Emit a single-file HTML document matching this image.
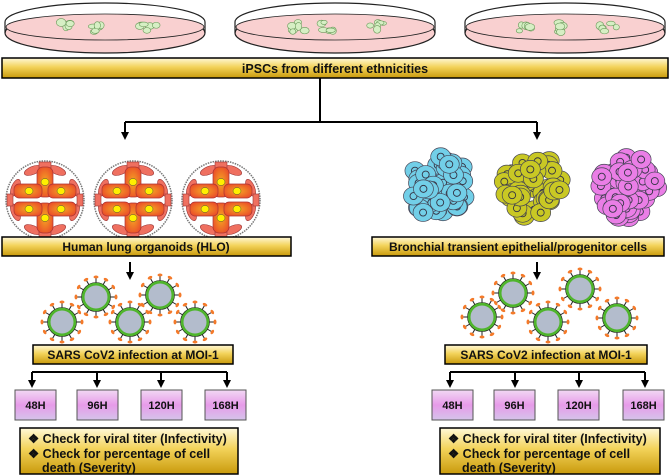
<!DOCTYPE html>
<html><head><meta charset="utf-8"><style>
html,body{margin:0;padding:0;background:#fff;width:670px;height:476px;overflow:hidden}
svg{display:block}
text{font-family:"Liberation Sans",Arial,sans-serif;font-weight:bold;fill:#111}
</style></head><body>
<svg id="s" width="670" height="476" viewBox="0 0 670 476" xmlns="http://www.w3.org/2000/svg">
<defs>
<linearGradient id="gold" x1="0" y1="0" x2="0" y2="1">
<stop offset="0" stop-color="#fff8d8"/><stop offset="0.45" stop-color="#f3d35a"/><stop offset="1" stop-color="#c99a0c"/></linearGradient>
<linearGradient id="pink" x1="0" y1="0" x2="0" y2="1">
<stop offset="0" stop-color="#f2d8f4"/><stop offset="0.5" stop-color="#e79be9"/><stop offset="1" stop-color="#d5c4ea"/></linearGradient>
<radialGradient id="org" cx="0.5" cy="0.5" r="0.6"><stop offset="0" stop-color="#f5a623"/><stop offset="1" stop-color="#ea4a2a"/></radialGradient>
<marker id="ar" markerWidth="8" markerHeight="8" refX="4" refY="4" orient="auto" markerUnits="userSpaceOnUse"><path d="M0,0 L8,4 L0,8 z" fill="#000"/></marker>
</defs>
<g id="dishes"></g>
<rect x="2" y="58" width="666" height="20" fill="url(#gold)" stroke="#000" stroke-width="1.5"/>
<text x="335" y="73" text-anchor="middle" font-size="12.5">iPSCs from different ethnicities</text>
<g stroke="#000" stroke-width="2" fill="none">
<path d="M320,78 V122 M125,122 H537"/>
<path d="M125,122 V136" marker-end="url(#ar)"/>
<path d="M537,122 V136" marker-end="url(#ar)"/>
<path d="M130,262 V276" marker-end="url(#ar)"/>
<path d="M537,262 V276" marker-end="url(#ar)"/>
<path d="M32,372 H227 M450,372 H645"/>
<path d="M32,372 V384" marker-end="url(#ar)"/>
<path d="M97,372 V384" marker-end="url(#ar)"/>
<path d="M161,372 V384" marker-end="url(#ar)"/>
<path d="M227,372 V384" marker-end="url(#ar)"/>
<path d="M450,372 V384" marker-end="url(#ar)"/>
<path d="M515,372 V384" marker-end="url(#ar)"/>
<path d="M579,372 V384" marker-end="url(#ar)"/>
<path d="M645,372 V384" marker-end="url(#ar)"/>
</g>
<g id="orgs"></g>
<g id="clus"></g>
<g id="vir"></g>
<rect x="2" y="237" width="289" height="19" fill="url(#gold)" stroke="#000" stroke-width="1.5"/>
<text x="146" y="251" text-anchor="middle" font-size="12">Human lung organoids (HLO)</text>
<rect x="372" y="237" width="292" height="19" fill="url(#gold)" stroke="#000" stroke-width="1.5"/>
<text x="518" y="251" text-anchor="middle" font-size="12">Bronchial transient epithelial/progenitor  cells</text>
<rect x="33" y="345" width="200" height="19" fill="url(#gold)" stroke="#000" stroke-width="1.5"/>
<text x="133" y="359" text-anchor="middle" font-size="12">SARS CoV2 infection at MOI-1</text>
<rect x="445" y="345" width="202" height="19" fill="url(#gold)" stroke="#000" stroke-width="1.5"/>
<text x="546" y="359" text-anchor="middle" font-size="12">SARS CoV2 infection at MOI-1</text>
<g id="boxes"></g>
<rect x="20" y="428" width="218" height="46" fill="url(#gold)" stroke="#000" stroke-width="1.5"/>
<text font-size="12.5"><tspan x="28" y="443">❖ Check for viral titer (Infectivity)</tspan><tspan x="28" y="458">❖ Check for percentage of cell</tspan><tspan x="42" y="472">death (Severity)</tspan></text>
<rect x="440" y="428" width="220" height="46" fill="url(#gold)" stroke="#000" stroke-width="1.5"/>
<text font-size="12.5"><tspan x="448" y="443">❖ Check for viral titer (Infectivity)</tspan><tspan x="448" y="458">❖ Check for percentage of cell</tspan><tspan x="462" y="472">death (Severity)</tspan></text>
</svg>
<script>
var NS="http://www.w3.org/2000/svg";
function el(p,t,a){var e=document.createElementNS(NS,t);for(var k in a)e.setAttribute(k,a[k]);p.appendChild(e);return e;}
var seed=7;function rnd(){seed=(seed*9301+49297)%233280;return seed/233280;}
var d=document.getElementById("dishes");
[105,335,565].forEach(function(cx){
 el(d,"ellipse",{cx:cx,cy:33,rx:100,ry:20,fill:"#f9d0d0",stroke:"#222","stroke-width":1.2});
 el(d,"path",{d:"M"+(cx-100)+",22 V33 M"+(cx+100)+",22 V33",stroke:"#222","stroke-width":1.2});
 el(d,"path",{d:"M"+(cx-100)+",22 A100,19 0 0 1 "+(cx+100)+",22",fill:"#fff",stroke:"#222","stroke-width":1.2});
 el(d,"ellipse",{cx:cx,cy:27,rx:99,ry:13,fill:"#f9d0d0",stroke:"#222","stroke-width":0.8});
 [-38,-5,43].forEach(function(o){for(var i=0;i<6;i++){el(d,"ellipse",{cx:cx+o+rnd()*18-9,cy:27+rnd()*10-5,rx:3+rnd()*2,ry:2+rnd()*2,fill:"#d6efc4",stroke:"#6a9a5a","stroke-width":0.6});}});
});
var g=document.getElementById("orgs");
[45,133,221].forEach(function(cx){var cy=200;
 el(g,"circle",{cx:cx,cy:cy,r:39,fill:"#fff",stroke:"#777","stroke-width":1.5,"stroke-dasharray":"1.5 1"});
 for(var i=0;i<8;i++){var a=i*45+22.5;el(g,"ellipse",{cx:cx,cy:cy-32,rx:9,ry:4,fill:"#ef7060",stroke:"#933","stroke-width":0.6,transform:"rotate("+a+" "+cx+" "+cy+")"});}
 for(var i=0;i<4;i++){var a=i*90;el(g,"rect",{x:cx-6,y:cy-38,width:12,height:6,fill:"#ef7060",stroke:"#933","stroke-width":0.6,transform:"rotate("+a+" "+cx+" "+cy+")"});}
 el(g,"rect",{x:cx-8,y:cy-33,width:16,height:30,rx:6,fill:"url(#org)",stroke:"#a33","stroke-width":0.7});
 el(g,"rect",{x:cx-8,y:cy+3,width:16,height:30,rx:6,fill:"url(#org)",stroke:"#a33","stroke-width":0.7});
 [[-31,-16],[3,-16],[-31,2],[3,2]].forEach(function(p){el(g,"rect",{x:cx+p[0],y:cy+p[1],width:28,height:14,rx:5,fill:"url(#org)",stroke:"#a33","stroke-width":0.7});});
 [[0,-18],[0,18],[-16,-9],[16,-9],[-16,9],[16,9]].forEach(function(p){el(g,"ellipse",{cx:cx+p[0],cy:cy+p[1],rx:4,ry:3.5,fill:"#ffef00",stroke:"#553","stroke-width":0.5});});
});
var c=document.getElementById("clus");
[[440,"#72cfe8"],[533,"#c9c824"],[627,"#ea7ee6"]].forEach(function(q){var cx=q[0],cy=187;
 var pts=[];for(var i=0;i<50;i++){var a=rnd()*6.283,r=Math.sqrt(rnd())*30;pts.push([cx+Math.cos(a)*r,cy+Math.sin(a)*r*1.05]);}
 pts.forEach(function(p){el(c,"ellipse",{cx:p[0],cy:p[1],rx:10,ry:9,fill:q[1],stroke:"#445","stroke-width":0.7});el(c,"circle",{cx:p[0],cy:p[1],r:3.5,fill:"none",stroke:"#334","stroke-width":0.9});});
});
var v=document.getElementById("vir");
[[62,322],[96,297],[130,322],[160,295],[195,322],[482,317],[513,293],[548,322],[580,289],[617,318]].forEach(function(p){
 for(var i=0;i<12;i++){var a=i*30*Math.PI/180;var x1=p[0]+Math.cos(a)*14,y1=p[1]+Math.sin(a)*14,x2=p[0]+Math.cos(a)*19,y2=p[1]+Math.sin(a)*19;
  el(v,"line",{x1:x1,y1:y1,x2:x2,y2:y2,stroke:"#222","stroke-width":1});
  el(v,"ellipse",{cx:p[0]+Math.cos(a)*20,cy:p[1]+Math.sin(a)*20,rx:2.5,ry:1.5,fill:"#f47a2a",transform:"rotate("+(i*30+90)+" "+(p[0]+Math.cos(a)*20)+" "+(p[1]+Math.sin(a)*20)+")"});}
 el(v,"circle",{cx:p[0],cy:p[1],r:13,fill:"#b3bccc",stroke:"#4fb52c","stroke-width":3});
 el(v,"circle",{cx:p[0],cy:p[1],r:14.5,fill:"none",stroke:"#222","stroke-width":0.6});
});
var b=document.getElementById("boxes");
[[15,"48H"],[77,"96H"],[141,"120H"],[205,"168H"],[432,"48H"],[494,"96H"],[558,"120H"],[623,"168H"]].forEach(function(q){
 el(b,"rect",{x:q[0],y:390,width:41,height:30,fill:"url(#pink)",stroke:"#555","stroke-width":1});
 var t=el(b,"text",{x:q[0]+20.5,y:409,"text-anchor":"middle","font-size":11});t.textContent=q[1];
});
</script>
</body></html>
